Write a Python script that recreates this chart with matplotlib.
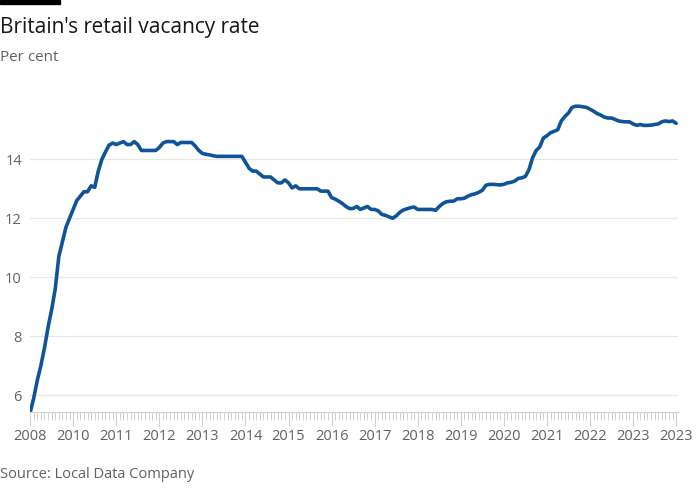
import numpy as np
import matplotlib
matplotlib.use("Agg")
from matplotlib import pyplot as plt

# monthly retail vacancy rate, Jan 2008 .. Jan 2023 (per cent)
y2008 = [5.4, 5.9, 6.5, 7.0, 7.6, 8.3, 8.9, 9.6, 10.7, 11.2, 11.7, 12.0]
y2009 = [12.3, 12.6, 12.75, 12.9, 12.9, 13.1, 13.05, 13.6, 14.0, 14.25, 14.48, 14.55]
y2010 = [14.5, 14.55, 14.6, 14.5, 14.5, 14.6, 14.5, 14.3, 14.3, 14.3, 14.3, 14.3]
y2011 = [14.4, 14.55, 14.6, 14.6, 14.6, 14.5, 14.57, 14.57, 14.57, 14.57, 14.45, 14.3]
y2012 = [14.2, 14.17, 14.15, 14.12, 14.1, 14.1, 14.1, 14.1, 14.1, 14.1, 14.1, 14.1]
y2013 = [13.9, 13.7, 13.6, 13.6, 13.5, 13.4, 13.4, 13.4, 13.3, 13.2, 13.2, 13.3]
y2014 = [13.2, 13.03, 13.1, 13.0, 13.0, 13.0, 13.0, 13.0, 13.0, 12.92, 12.92, 12.92]
y2015 = [12.7, 12.65, 12.58, 12.5, 12.4, 12.33, 12.33, 12.4, 12.3, 12.35, 12.4, 12.3]
y2016 = [12.3, 12.25, 12.13, 12.1, 12.05, 12.0, 12.08, 12.2, 12.28, 12.32, 12.36, 12.38]
y2017 = [12.3, 12.3, 12.3, 12.3, 12.3, 12.27, 12.4, 12.5, 12.56, 12.58, 12.58, 12.66]
y2018 = [12.66, 12.68, 12.75, 12.8, 12.83, 12.88, 12.95, 13.12, 13.15, 13.15, 13.14, 13.13]
y2019 = [13.15, 13.2, 13.22, 13.26, 13.35, 13.37, 13.42, 13.65, 14.05, 14.3, 14.42, 14.72]
y2020 = [14.8, 14.9, 14.95, 15.0, 15.3, 15.45, 15.57, 15.76, 15.8, 15.8, 15.78, 15.76]
y2021 = [15.7, 15.63, 15.55, 15.5, 15.43, 15.4, 15.4, 15.35, 15.3, 15.28, 15.27, 15.27]
y2022 = [15.2, 15.15, 15.18, 15.15, 15.15, 15.16, 15.18, 15.2, 15.27, 15.3, 15.28, 15.3]
y2023 = [15.22]

rate = (y2008 + y2009 + y2010 + y2011 + y2012 + y2013 + y2014 + y2015 + y2016
        + y2017 + y2018 + y2019 + y2020 + y2021 + y2022 + y2023)
t = 2008 + np.arange(len(rate)) / 12

tick_years = list(range(2008, 2024))
tick_labels = ["2008", "2010", "2011", "2012", "2013", "2014", "2015", "2016",
               "2017", "2018", "2019", "2020", "2021", "2022", "2023", "2023"]

plt.rcParams["font.family"] = "Open Sans"
fig = plt.figure(figsize=(7, 5), dpi=100, facecolor="white")
ax = fig.add_axes([0.043, 0.176, 0.926, 0.644])

ax.plot(t, rate, color="#0f5499", lw=2.6, solid_capstyle="round", zorder=3)
ax.set_xlim(2008, 2023.05)
ax.set_ylim(5.43, 16.35)
ax.set_yticks([6, 8, 10, 12, 14])
ax.grid(axis="y", color="#ebe6e0", lw=0.9)
ax.set_xticks(tick_years)
ax.set_xticklabels(tick_labels)
ax.set_xticks(2008 + np.arange(181) / 12, minor=True)
ax.tick_params(axis="x", which="major", length=10, color="#d5d0ca", labelsize=10.5,
               labelcolor="#66605c", pad=2)
ax.tick_params(axis="x", which="minor", length=6, color="#d5d0ca", width=0.7)
ax.tick_params(axis="y", length=0, labelsize=10.5, labelcolor="#66605c", pad=6)
for s in ["top", "right", "left"]:
    ax.spines[s].set_visible(False)
ax.spines["bottom"].set_color("#d5d0ca")

fig.patches.append(plt.Rectangle((0, 0.992), 0.086, 0.008, transform=fig.transFigure,
                                 color="black"))
fig.text(0.0, 0.945, "Britain's retail vacancy rate", fontsize=15, color="#1a1817", va="center")
fig.text(0.0, 0.885, "Per cent", fontsize=11, color="#66605c", va="center")
fig.text(0.0, 0.05, "Source: Local Data Company", fontsize=10.5, color="#66605c", va="center")

fig.savefig("out.png", dpi=100, facecolor="white")
